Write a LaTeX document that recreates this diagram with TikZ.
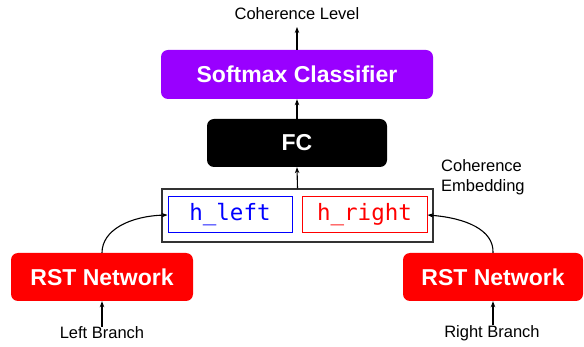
\documentclass[tikz,border=0pt]{standalone}
\usepackage{fontspec}
\setmainfont{Liberation Sans}
\newfontfamily\codefont{DejaVu Sans Mono}
\usetikzlibrary{arrows.meta}
\definecolor{sfpurple}{HTML}{9900FF}
\definecolor{rstred}{HTML}{FF0000}
\definecolor{hblue}{HTML}{0000FF}
\tikzset{
  blk/.style={rounded corners=7pt, inner sep=0pt, text=white,
    font=\fontsize{23}{27}\selectfont\bfseries},
  hbox/.style={draw, line width=1pt, inner sep=0pt,
    font=\codefont\fontsize{22.5}{26}\selectfont},
  lbl/.style={font=\fontsize{16.5}{20}\selectfont, inner sep=0pt},
  arr/.style={-{Stealth[length=6pt,width=4.5pt]}, line width=1.1pt},
}
\begin{document}
\begin{tikzpicture}[x=1pt,y=-1pt]
\useasboundingbox (0,0) rectangle (584,347);
% softmax
\node[blk, fill=sfpurple, minimum width=272pt, minimum height=49pt] (sm) at (297,74.5) {Softmax Classifier};
\node[lbl] (cl) at (297,14) {Coherence Level};
\coordinate (clb) at (297,27);
% FC
\node[blk, fill=black, minimum width=180pt, minimum height=48pt] (fc) at (297,143) {FC};
% embedding
\node[draw=black!80, line width=1.2pt, minimum width=271pt, minimum height=53pt, inner sep=0pt] (emb) at (297.5,215.5) {};
\node[hbox, draw=hblue, text=hblue, minimum width=124pt, minimum height=36pt] (hl) at (230,215) {h\_left};
\node[hbox, draw=rstred, text=rstred, minimum width=125pt, minimum height=36pt] (hr) at (364.5,215) {h\_right};
\node[lbl, align=left, anchor=north west, font=\fontsize{16.5}{20}\selectfont] (ce) at (441,159) {Coherence\\Embedding};
% RST networks
\node[blk, fill=rstred, minimum width=182pt, minimum height=48pt] (rl) at (102,277) {RST Network};
\node[blk, fill=rstred, minimum width=180pt, minimum height=48pt] (rr) at (493,277) {RST Network};
\node[lbl] (lb) at (102,333) {Left Branch};
\node[lbl] (rb) at (492,333) {Right Branch};
% arrows
\draw[arr] (sm.north) -- (clb);
\draw[arr] (fc.north) -- (sm.south);
\draw[arr] (emb.north) -- (fc.south);
\draw[arr] (lb.north) -- (rl.south);
\draw[arr] (rb.north -| rr.south) -- (rr.south);
\draw[arr] (rl.north) .. controls (102,230) and (130,216) .. (hl.west);
\draw[arr] (rr.north) .. controls (494,230) and (466,218) .. (hr.east);
\end{tikzpicture}
\end{document}
